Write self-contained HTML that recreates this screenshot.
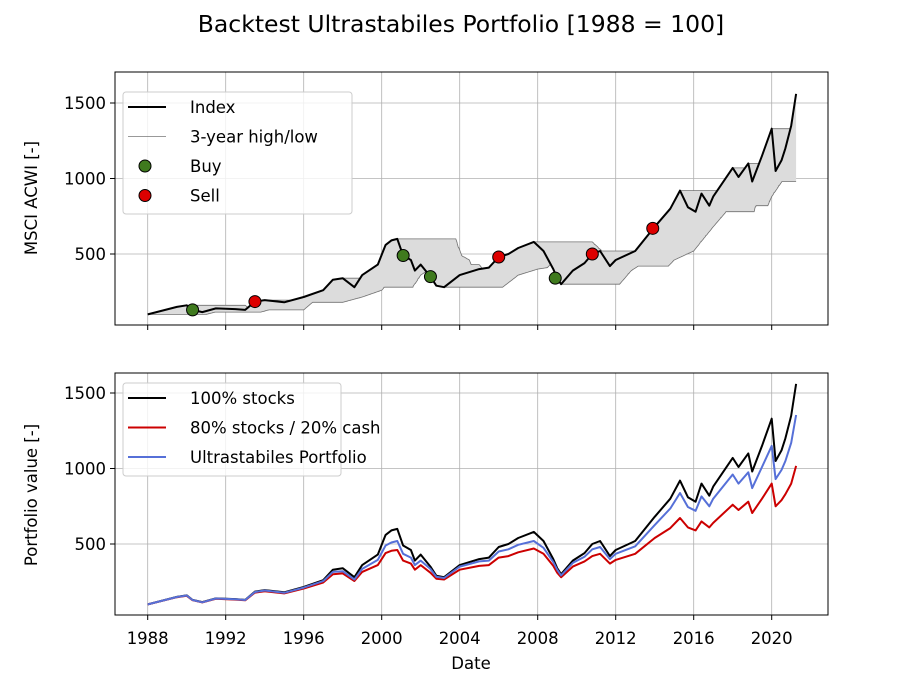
<!DOCTYPE html>
<html><head><meta charset="utf-8"><style>
body{margin:0;background:#fff}
svg{display:block;font-family:"DejaVu Sans","Liberation Sans",sans-serif}
</style></head><body>
<svg id="c" width="921" height="691" viewBox="0 0 921 691">
<text x="461" y="32" font-size="23.5" text-anchor="middle">Backtest Ultrastabiles Portfolio [1988 = 100]</text>
<text x="37" y="198" font-size="16.5" text-anchor="middle" transform="rotate(-90 37 198)">MSCI ACWI [-]</text>
<text x="37" y="495" font-size="16.5" text-anchor="middle" transform="rotate(-90 37 495)">Portfolio value [-]</text>
<text x="471" y="669" font-size="16.5" text-anchor="middle">Date</text>
<g id="top"></g><g id="bot"></g>
</svg>
<script>
const dates=[1988.0,1989.5,1990.0,1990.3,1990.8,1991.5,1992.5,1993.0,1993.5,1994.0,1995.0,1996.0,1997.0,1997.5,1998.0,1998.6,1999.0,1999.8,2000.2,2000.5,2000.8,2001.1,2001.5,2001.7,2002.0,2002.5,2002.8,2003.2,2004.0,2005.0,2005.5,2006.0,2006.5,2007.0,2007.8,2008.3,2008.8,2009.0,2009.2,2009.8,2010.4,2010.8,2011.2,2011.7,2012.0,2013.0,2014.0,2014.8,2015.3,2015.7,2016.1,2016.4,2016.8,2017.0,2018.0,2018.3,2018.8,2019.0,2019.5,2020.0,2020.2,2020.5,2020.7,2021.0,2021.25];
const indexVals=[100,150,160,130,115,140,135,130,185,195,180,215,260,330,340,280,360,430,560,590,600,490,460,390,430,350,290,280,360,400,410,480,500,540,580,520,400,340,300,390,440,500,520,420,460,520,680,800,920,810,780,900,820,880,1070,1010,1100,980,1150,1330,1050,1120,1200,1350,1560];
const mixVals=[100,148,157,128,113,137,132,127,178,187,173,205,245,300,305,255,315,360,440,455,460,390,370,330,360,310,270,265,330,355,360,410,420,445,470,435,355,310,280,350,385,420,435,370,395,435,540,605,672,610,590,650,610,640,760,725,780,705,800,900,750,790,830,900,1017];
const ultraVals=[100,149,159,129,114,139,134,129,182,192,177,211,254,315,320,265,335,395,490,510,520,435,410,360,390,335,283,275,350,385,390,450,465,495,520,475,380,330,292,375,415,465,480,400,435,485,625,735,838,745,720,815,750,800,960,900,975,870,1010,1150,930,990,1050,1170,1354];
const buyDates=[1990.3,2001.1,2002.5,2008.9];
const buyVals=[130,490,350,340];
const sellDates=[1993.5,2006.0,2010.8,2013.9];
const sellVals=[185,480,500,670];
const xTicks=[1988,1992,1996,2000,2004,2008,2012,2016,2020];
const yTicks=[500,1000,1500];

const NS="http://www.w3.org/2000/svg";
const L=115,R=828;
const xs=y=>147.7+(y-1988)*19.5;
function mk(p,t,a){const e=document.createElementNS(NS,t);for(const k in a)e.setAttribute(k,a[k]);p.appendChild(e);return e;}
function path(xa,ya,sx,sy){return xa.map((d,i)=>(i?'L':'M')+sx(d).toFixed(1)+','+sy(ya[i]).toFixed(1)).join('');}
function axes(g,T,B,sy,showX){
  const grid=mk(g,'g',{});
  xTicks.forEach(t=>{mk(grid,'line',{x1:xs(t),x2:xs(t),y1:T,y2:B,stroke:'#b0b0b0','stroke-width':0.8});
    mk(g,'line',{x1:xs(t),x2:xs(t),y1:B,y2:B+5,stroke:'#000','stroke-width':1});
    if(showX){const tx=mk(g,'text',{x:xs(t),y:B+29,'font-size':16.5,'text-anchor':'middle'});tx.textContent=t;
      }});
  yTicks.forEach(t=>{mk(grid,'line',{x1:L,x2:R,y1:sy(t),y2:sy(t),stroke:'#b0b0b0','stroke-width':0.8});
    mk(g,'line',{x1:L-5,x2:L,y1:sy(t),y2:sy(t),stroke:'#000','stroke-width':1});
    const tx=mk(g,'text',{x:L-9,y:sy(t)+6,'font-size':16.5,'text-anchor':'end'});tx.textContent=t;
    });
}
function frame(g,T,B){const r=mk(g,'rect',{x:L,y:T,width:R-L,height:B-T,fill:'none',stroke:'#000','stroke-width':1});
  }
function legend(g,x,y,w,h,items){
  const lg=mk(g,'g',{});
  mk(lg,'rect',{x:x,y:y,width:w,height:h,rx:3,fill:'#fff','fill-opacity':0.8,stroke:'#ccc'});
  items.forEach((it,i)=>{const cy=y+15+i*29.5;
    const e=mk(lg,'g',{});
    if(it.m)mk(e,'circle',{cx:x+22,cy:cy,r:6,fill:it.c,stroke:'#000','stroke-width':1});
    else mk(e,'line',{x1:x+5,x2:x+43,y1:cy,y2:cy,stroke:it.c,'stroke-width':it.w});
    const t=mk(e,'text',{x:x+67,y:cy+6,'font-size':16.5});t.textContent=it.t;});
}
const gt=document.getElementById('top');
const T1=72,B1=325,syT=v=>329.5-v*0.151;
axes(gt,T1,B1,syT,false);
const fx=[],fv=[];
for(let i=0;i<dates.length-1;i++){const n=Math.max(1,Math.round((dates[i+1]-dates[i])/0.02));
  for(let k=0;k<n;k++){const f=k/n;fx.push(dates[i]+f*(dates[i+1]-dates[i]));fv.push(indexVals[i]+f*(indexVals[i+1]-indexVals[i]));}}
fx.push(dates[dates.length-1]);fv.push(indexVals[indexVals.length-1]);
const hi=[],lo=[];
fx.forEach((d,i)=>{let mx=-1e9,mn=1e9;for(let j=i;j>=0&&fx[j]>=d-3;j--){mx=Math.max(mx,fv[j]);mn=Math.min(mn,fv[j]);}hi.push(mx);lo.push(mn);});
const band=mk(gt,'path',{d:path(fx,hi,xs,syT)+path(fx.slice().reverse(),lo.slice().reverse(),xs,syT).replace('M','L')+'Z',fill:'#dcdcdc',stroke:'none'});

const hl=mk(gt,'path',{d:path(fx,hi,xs,syT),fill:'none',stroke:'#707070','stroke-width':0.8});

const ll=mk(gt,'path',{d:path(fx,lo,xs,syT),fill:'none',stroke:'#707070','stroke-width':0.8});

const il=mk(gt,'path',{d:path(dates,indexVals,xs,syT),fill:'none',stroke:'#000','stroke-width':2,'stroke-linejoin':'round'});

buyDates.forEach((d,i)=>{const c=mk(gt,'circle',{cx:xs(d),cy:syT(buyVals[i]),r:6,fill:'#3f7a1e',stroke:'#000','stroke-width':1});
  });
sellDates.forEach((d,i)=>{const c=mk(gt,'circle',{cx:xs(d),cy:syT(sellVals[i]),r:6,fill:'#dd0000',stroke:'#000','stroke-width':1});
  });
frame(gt,T1,B1);
legend(gt,123,92,229,122,[{c:'#000',w:2,t:'Index'},{c:'#777',w:0.8,t:'3-year high/low'},{c:'#3f7a1e',m:1,t:'Buy'},{c:'#dd0000',m:1,t:'Sell'}]);
const gb=document.getElementById('bot');
const T2=373,B2=615,syB=v=>619.5-v*0.151;
axes(gb,T2,B2,syB,true);
[[indexVals,'#000','stocks-100-line'],[mixVals,'#cc0000','stocks-80-cash-20-line'],[ultraVals,'#5670d8','ultrastabiles-line']].forEach(s=>{
  const p=mk(gb,'path',{d:path(dates,s[0],xs,syB),fill:'none',stroke:s[1],'stroke-width':2,'stroke-linejoin':'round'});
  });
frame(gb,T2,B2);
legend(gb,123,383,218,93,[{c:'#000',w:2,t:'100% stocks'},{c:'#cc0000',w:2,t:'80% stocks / 20% cash'},{c:'#5670d8',w:2,t:'Ultrastabiles Portfolio'}]);
</script>
</body></html>
